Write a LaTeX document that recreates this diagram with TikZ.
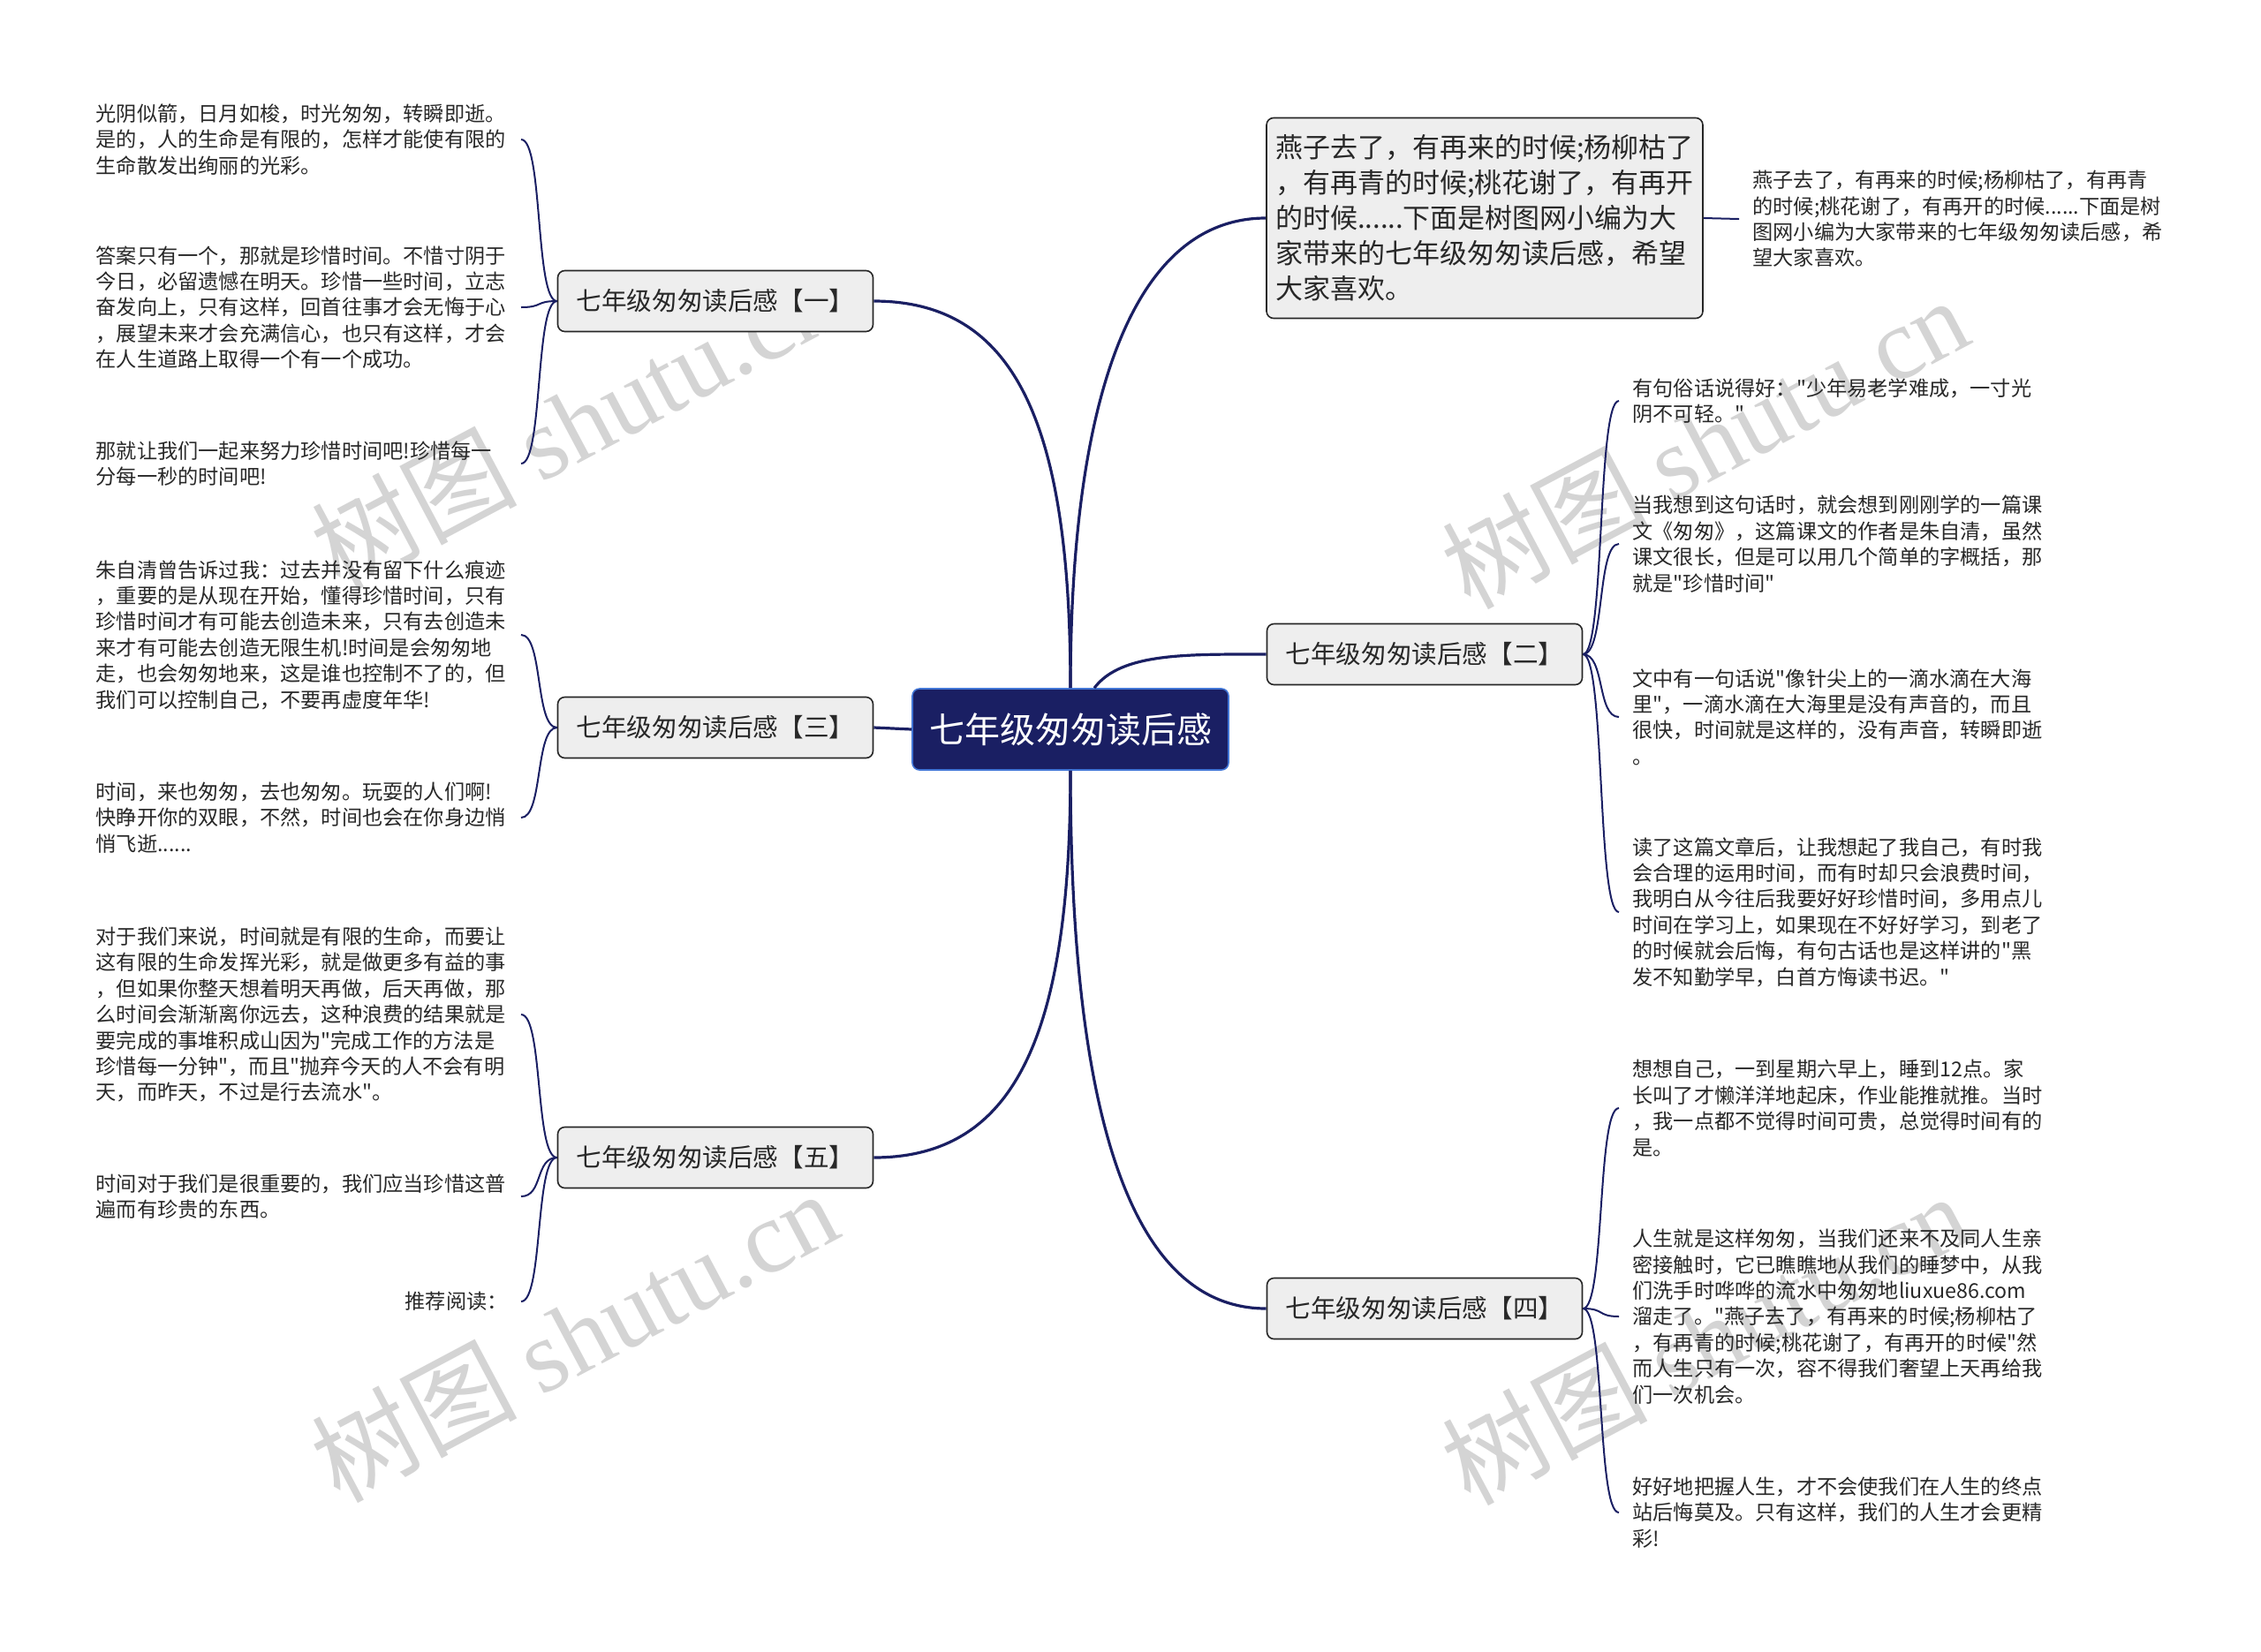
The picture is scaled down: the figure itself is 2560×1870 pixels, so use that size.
\documentclass[tikz,border=0pt]{standalone}
\usepackage{fontspec}
\newfontfamily\cjk{Noto Sans CJK SC}
\newfontfamily\wmserif{Liberation Serif}

\definecolor{navy}{RGB}{26,31,99}
\definecolor{hubedge}{RGB}{66,118,214}
\definecolor{boxfill}{RGB}{238,238,238}
\definecolor{ink}{RGB}{40,40,40}

\tikzset{
  hub/.style={rounded corners=4pt, fill=navy, draw=hubedge, line width=0.8pt, text=white,
    minimum width=179pt, minimum height=46pt, font=\cjk\fontsize{20}{24}\selectfont},
  topic/.style={rounded corners=4pt, fill=boxfill, draw=black!85, line width=0.8pt, text=ink,
    minimum width=178.5pt, minimum height=34.5pt, font=\cjk\fontsize{14.3}{17}\selectfont},
  intro/.style={topic, align=left, minimum width=247pt, minimum height=113.5pt,
    font=\cjk\fontsize{15.5}{20}\selectfont},
  leaf/.style={align=left, text width=233pt, text=ink, inner xsep=7.5pt,
    font=\cjk\fontsize{11.6}{14.7}\selectfont},
  trunk/.style={draw=navy, line width=1.6pt},
  twig/.style={draw=navy, line width=1pt},
  wmark/.style={text=black!17, rotate=28, inner sep=0pt, font=\cjk\fontsize{58}{60}\selectfont}
}

\begin{document}
\begin{tikzpicture}[x=0.5pt,y=-0.5pt]
\useasboundingbox (0,0) rectangle (2560,1870);

% watermark
\node[wmark] (wm1) at (650,478) {树图 {\wmserif shutu.cn}};
\node[wmark] (wm2) at (650,1512) {树图 {\wmserif shutu.cn}};
\node[wmark] (wm3) at (1930,500) {树图 {\wmserif shutu.cn}};
\node[wmark] (wm4) at (1930,1515) {树图 {\wmserif shutu.cn}};

\node[hub] (hub) at (1212,826) {七年级匆匆读后感};

\node[topic] (b1) at (810,341) {七年级匆匆读后感【一】};
\node[topic] (b3) at (810,824) {七年级匆匆读后感【三】};
\node[topic] (b5) at (810,1311) {七年级匆匆读后感【五】};
\node[topic] (b2) at (1613,741) {七年级匆匆读后感【二】};
\node[topic] (b4) at (1613,1482) {七年级匆匆读后感【四】};

\node[intro] (top) at (1681,247) {燕子去了，有再来的时候;杨柳枯了\\，有再青的时候;桃花谢了，有再开\\的时候......下面是树图网小编为大\\家带来的七年级匆匆读后感，希望\\大家喜欢。};
\node[leaf, anchor=west] (topleaf) at (1969,248) {燕子去了，有再来的时候;杨柳枯了，有再青\\的时候;桃花谢了，有再开的时候......下面是树\\图网小编为大家带来的七年级匆匆读后感，希\\望大家喜欢。};

% left leaves
\node[leaf, anchor=east] (l1a) at (590,158) {光阴似箭，日月如梭，时光匆匆，转瞬即逝。\\是的，人的生命是有限的，怎样才能使有限的\\生命散发出绚丽的光彩。};
\node[leaf, anchor=east] (l1b) at (590,348) {答案只有一个，那就是珍惜时间。不惜寸阴于\\今日，必留遗憾在明天。珍惜一些时间，立志\\奋发向上，只有这样，回首往事才会无悔于心\\，展望未来才会充满信心，也只有这样，才会\\在人生道路上取得一个有一个成功。};
\node[leaf, anchor=east] (l1c) at (590,525) {那就让我们一起来努力珍惜时间吧!珍惜每一\\分每一秒的时间吧!};
\node[leaf, anchor=east] (l3a) at (590,719) {朱自清曾告诉过我：过去并没有留下什么痕迹\\，重要的是从现在开始，懂得珍惜时间，只有\\珍惜时间才有可能去创造未来，只有去创造未\\来才有可能去创造无限生机!时间是会匆匆地\\走，也会匆匆地来，这是谁也控制不了的，但\\我们可以控制自己，不要再虚度年华!};
\node[leaf, anchor=east] (l3b) at (590,926) {时间，来也匆匆，去也匆匆。玩耍的人们啊!\\快睁开你的双眼，不然，时间也会在你身边悄\\悄飞逝......};
\node[leaf, anchor=east] (l5a) at (590,1149) {对于我们来说，时间就是有限的生命，而要让\\这有限的生命发挥光彩，就是做更多有益的事\\，但如果你整天想着明天再做，后天再做，那\\么时间会渐渐离你远去，这种浪费的结果就是\\要完成的事堆积成山因为"完成工作的方法是\\珍惜每一分钟"，而且"抛弃今天的人不会有明\\天，而昨天，不过是行去流水"。};
\node[leaf, anchor=east] (l5b) at (590,1355) {时间对于我们是很重要的，我们应当珍惜这普\\遍而有珍贵的东西。};
\node[leaf, anchor=east, align=right] (l5c) at (590,1474) {推荐阅读：};

% right leaves
\node[leaf, anchor=west] (r2a) at (1833,454) {有句俗话说得好："少年易老学难成，一寸光\\阴不可轻。"};
\node[leaf, anchor=west] (r2b) at (1833,616) {当我想到这句话时，就会想到刚刚学的一篇课\\文《匆匆》，这篇课文的作者是朱自清，虽然\\课文很长，但是可以用几个简单的字概括，那\\就是"珍惜时间"};
\node[leaf, anchor=west] (r2c) at (1833,812) {文中有一句话说"像针尖上的一滴水滴在大海\\里"，一滴水滴在大海里是没有声音的，而且\\很快，时间就是这样的，没有声音，转瞬即逝\\。};
\node[leaf, anchor=west] (r2d) at (1833,1033) {读了这篇文章后，让我想起了我自己，有时我\\会合理的运用时间，而有时却只会浪费时间，\\我明白从今往后我要好好珍惜时间，多用点儿\\时间在学习上，如果现在不好好学习，到老了\\的时候就会后悔，有句古话也是这样讲的"黑\\发不知勤学早，白首方悔读书迟。"};
\node[leaf, anchor=west] (r4a) at (1833,1255) {想想自己，一到星期六早上，睡到12点。家\\长叫了才懒洋洋地起床，作业能推就推。当时\\，我一点都不觉得时间可贵，总觉得时间有的\\是。};
\node[leaf, anchor=west] (r4b) at (1833,1491) {人生就是这样匆匆，当我们还来不及同人生亲\\密接触时，它已瞧瞧地从我们的睡梦中，从我\\们洗手时哗哗的流水中匆匆地liuxue86.com\\溜走了。"燕子去了，有再来的时候;杨柳枯了\\，有再青的时候;桃花谢了，有再开的时候"然\\而人生只有一次，容不得我们奢望上天再给我\\们一次机会。};
\node[leaf, anchor=west] (r4c) at (1833,1713) {好好地把握人生，才不会使我们在人生的终点\\站后悔莫及。只有这样，我们的人生才会更精\\彩!};

% main branches
\draw[trunk] (hub.north) .. controls +(0,-300) and +(160,0) .. (b1.east);
\draw[trunk] (hub.north) .. controls +(0,-330) and +(-150,0) .. (top.west);
\draw[trunk] (hub.60) .. controls +(30,-40) and +(-90,0) .. (b2.west);
\draw[trunk] (hub.west) -- (b3.east);
\draw[trunk] (hub.south) .. controls +(0,300) and +(160,0) .. (b5.east);
\draw[trunk] (hub.south) .. controls +(0,400) and +(-150,0) .. (b4.west);
\draw[twig] (top.east) -- (topleaf.west);

% leaves
\foreach \l in {l1a,l1b,l1c}
  \draw[twig] (b1.west) .. controls +(-25,0) and +(25,0) .. (\l.east);
\foreach \l in {l3a,l3b}
  \draw[twig] (b3.west) .. controls +(-25,0) and +(25,0) .. (\l.east);
\foreach \l in {l5a,l5b,l5c}
  \draw[twig] (b5.west) .. controls +(-25,0) and +(25,0) .. (\l.east);
\foreach \r in {r2a,r2b,r2c,r2d}
  \draw[twig] (b2.east) .. controls +(25,0) and +(-25,0) .. (\r.west);
\foreach \r in {r4a,r4b,r4c}
  \draw[twig] (b4.east) .. controls +(25,0) and +(-25,0) .. (\r.west);

\end{tikzpicture}
\end{document}
